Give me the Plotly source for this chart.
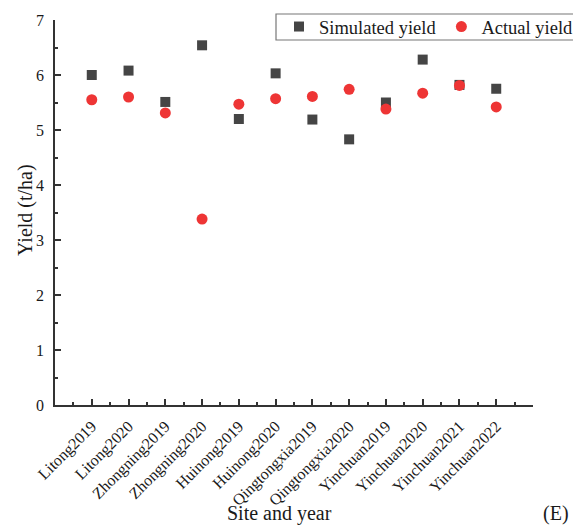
import plotly.graph_objects as go

sites = ["Litong2019", "Litong2020", "Zhongning2019", "Zhongning2020",
         "Huinong2019", "Huinong2020", "Qingtongxia2019", "Qingtongxia2020",
         "Yinchuan2019", "Yinchuan2020", "Yinchuan2021", "Yinchuan2022"]
simulated = [6.00, 6.08, 5.51, 6.54, 5.20, 6.03, 5.19, 4.83, 5.50, 6.28, 5.82, 5.75]
actual = [5.55, 5.60, 5.31, 3.38, 5.47, 5.57, 5.61, 5.74, 5.38, 5.67, 5.81, 5.42]
y_ticks = [0, 1, 2, 3, 4, 5, 6, 7]

xpos = list(range(len(sites)))
FONT = "Liberation Serif, Times New Roman, serif"
TXT = "#1a1a1a"

# plot area in pixels
L, R, T, B, W, H = 55, 40, 20, 124, 573, 529
pw, ph = W - L - R, H - T - B


def px(x):
    return (x - L) / pw


def py(y):
    return (H - B - y) / ph


fig = go.Figure()
fig.add_trace(go.Scatter(x=xpos, y=simulated, mode="markers", name="Simulated yield",
                         marker=dict(symbol="square", size=10, color="#454545")))
fig.add_trace(go.Scatter(x=xpos, y=actual, mode="markers", name="Actual yield",
                         marker=dict(symbol="circle", size=11, color="#ee3535")))

fig.update_layout(
    width=W, height=H,
    margin=dict(l=L, r=R, t=T, b=B, autoexpand=False),
    paper_bgcolor="white", plot_bgcolor="white",
    font=dict(family=FONT, color=TXT),
    showlegend=True,
    legend=dict(orientation="h", x=px(279), xanchor="left", y=py(27), yanchor="middle",
                borderwidth=0, bgcolor="rgba(0,0,0,0)",
                font=dict(family=FONT, size=18.5, color=TXT),
                itemsizing="trace"),
    xaxis=dict(range=[-1, 12], tickmode="array", tickvals=xpos + [12],
               ticktext=sites + [""], tickangle=-45,
               ticks="inside", ticklen=6, tickwidth=1.5, tickcolor="#333333",
               minor=dict(tickvals=[i + 0.5 for i in range(-1, 12)], ticks="inside",
                          ticklen=3, tickwidth=1.5, tickcolor="#333333"),
               showline=True, linecolor="#333333", linewidth=1.5,
               showgrid=False, zeroline=False, ticklabelstandoff=4,
               tickfont=dict(family=FONT, size=16, color=TXT)),
    yaxis=dict(range=[0, 7], tickmode="array", tickvals=y_ticks,
               ticks="inside", ticklen=6, tickwidth=1.5, tickcolor="#333333",
               minor=dict(dtick=0.5, ticks="inside", ticklen=3, tickwidth=1.5,
                          tickcolor="#333333"),
               showline=True, linecolor="#333333", linewidth=1.5,
               showgrid=False, zeroline=False, ticklabelstandoff=6,
               tickfont=dict(family=FONT, size=16, color=TXT)),
    shapes=[dict(type="rect", xref="paper", yref="paper",
                 x0=px(276), x1=px(620), y0=py(40), y1=py(14),
                 line=dict(color="#777777", width=1.2), fillcolor="rgba(0,0,0,0)")],
    annotations=[
        dict(text="Yield (t/ha)", x=px(25), y=py(210), textangle=-90,
             font=dict(family=FONT, size=20, color=TXT)),
        dict(text="Site and year", x=px(279), y=py(513),
             font=dict(family=FONT, size=20, color=TXT)),
        dict(text="(E)", x=px(556), y=py(513),
             font=dict(family=FONT, size=20, color=TXT)),
    ],
)
for a in fig.layout.annotations:
    a.xref = "paper"
    a.yref = "paper"
    a.showarrow = False
    a.xanchor = "center"
    a.yanchor = "middle"

fig.write_html("out.html")
